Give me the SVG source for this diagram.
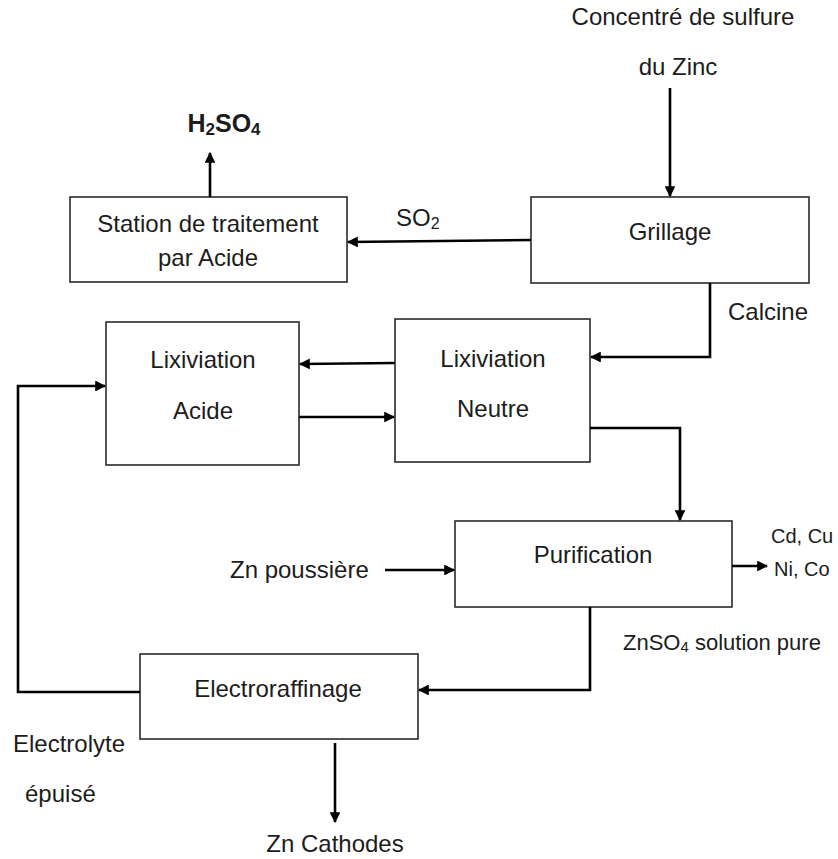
<svg xmlns="http://www.w3.org/2000/svg" width="838" height="859" viewBox="0 0 838 859">
  <style>
    .box { fill: #ffffff; stroke: #2a2a2a; stroke-width: 1.6; }
    .lbl { font-family: "Liberation Sans", Arial, sans-serif; font-size: 24px; fill: #1c1c1c; }
    .mid { text-anchor: middle; }
    .flow { fill: none; stroke: #000000; stroke-width: 2.6; }
  </style>
  <defs>
    <marker id="arrow" viewBox="0 0 10 10" refX="9" refY="5" markerWidth="4.2" markerHeight="4.2" orient="auto" markerUnits="strokeWidth">
      <path d="M0,0 L10,5 L0,10 z" fill="#000000"/>
    </marker>
  </defs>
  <rect width="838" height="859" fill="#ffffff"/>

  <!-- free labels -->
  <g id="labels">
    <text class="lbl mid" x="683" y="25">Concentré de sulfure</text>
    <text class="lbl mid" x="678" y="75">du Zinc</text>
    <text class="lbl mid" x="224" y="132" style="font-size:25px;font-weight:bold">H<tspan font-size="17" dy="3">2</tspan><tspan dy="-3">SO</tspan><tspan font-size="17" dy="3">4</tspan></text>
    <text class="lbl" x="396" y="226">SO<tspan font-size="16" dy="3">2</tspan></text>
    <text class="lbl" x="728" y="320">Calcine</text>
    <text class="lbl" x="771" y="543" style="font-size:20px">Cd, Cu</text>
    <text class="lbl" x="774" y="576" style="font-size:20px">Ni, Co</text>
    <text class="lbl" x="230" y="578">Zn poussière</text>
    <text class="lbl" x="623" y="650" style="font-size:22px">ZnSO<tspan font-size="15" dy="2">4</tspan><tspan dy="-2"> solution pure</tspan></text>
    <text class="lbl" x="13" y="752">Electrolyte</text>
    <text class="lbl" x="25" y="802">épuisé</text>
    <text class="lbl mid" x="335" y="852">Zn Cathodes</text>
  </g>

  <!-- process units -->
  <g id="station">
    <rect class="box" x="70" y="197" width="277" height="85"/>
    <text class="lbl mid" x="208" y="232">Station de traitement</text>
    <text class="lbl mid" x="208" y="266">par Acide</text>
  </g>
  <g id="grillage">
    <rect class="box" x="531" y="197" width="278" height="86"/>
    <text class="lbl mid" x="670" y="240">Grillage</text>
  </g>
  <g id="lixiviation-acide">
    <rect class="box" x="106" y="322" width="193" height="143"/>
    <text class="lbl mid" x="203" y="368">Lixiviation</text>
    <text class="lbl mid" x="203" y="419">Acide</text>
  </g>
  <g id="lixiviation-neutre">
    <rect class="box" x="395" y="319" width="195" height="143"/>
    <text class="lbl mid" x="493" y="367">Lixiviation</text>
    <text class="lbl mid" x="493" y="417">Neutre</text>
  </g>
  <g id="purification">
    <rect class="box" x="455" y="521" width="277" height="86"/>
    <text class="lbl mid" x="593" y="563">Purification</text>
  </g>
  <g id="electroraffinage">
    <rect class="box" x="140" y="654" width="278" height="85"/>
    <text class="lbl mid" x="278" y="697">Electroraffinage</text>
  </g>

  <!-- connectors -->
  <g id="connectors">
    <line class="flow" x1="670" y1="88" x2="670" y2="196" marker-end="url(#arrow)"/>
    <line class="flow" x1="210" y1="197" x2="210" y2="153" marker-end="url(#arrow)"/>
    <line class="flow" x1="531" y1="240" x2="348" y2="242" marker-end="url(#arrow)"/>
    <polyline class="flow" points="710,283 710,357 591,357" marker-end="url(#arrow)"/>
    <line class="flow" x1="395" y1="363" x2="300" y2="364" marker-end="url(#arrow)"/>
    <line class="flow" x1="299" y1="417" x2="394" y2="417" marker-end="url(#arrow)"/>
    <polyline class="flow" points="590,428 680,428 680,520" marker-end="url(#arrow)"/>
    <line class="flow" x1="732" y1="566" x2="767" y2="566" marker-end="url(#arrow)"/>
    <line class="flow" x1="385" y1="570" x2="454" y2="570" marker-end="url(#arrow)"/>
    <polyline class="flow" points="590,607 590,690 419,690" marker-end="url(#arrow)"/>
    <polyline class="flow" points="140,692 18,692 18,386 105,386" marker-end="url(#arrow)"/>
    <line class="flow" x1="335" y1="743" x2="335" y2="822" marker-end="url(#arrow)"/>
  </g>
</svg>
